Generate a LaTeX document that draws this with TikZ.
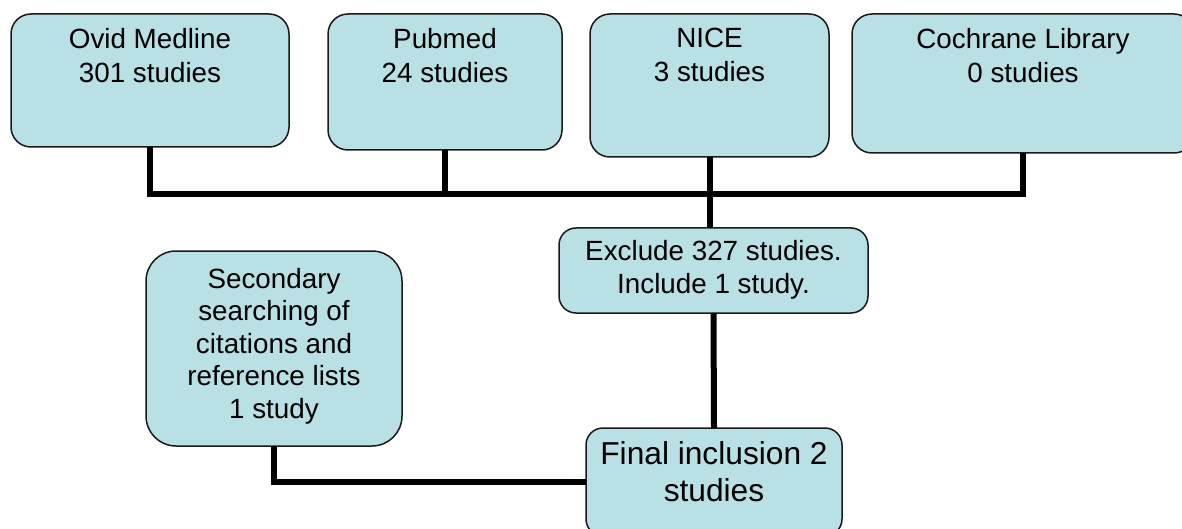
\documentclass[tikz,border=0pt]{standalone}
\usepackage{fontspec}
\setmainfont{Liberation Sans}
\definecolor{boxfill}{RGB}{185,224,228}
\definecolor{boxline}{RGB}{25,25,25}
\begin{document}
\begin{tikzpicture}[x=1pt,y=-1pt,
  box/.style={draw=boxline, line width=1.5pt, fill=boxfill, rounded corners=20pt, inner sep=0pt, outer sep=0pt, anchor=north west},
  txt/.style={align=center, inner sep=0pt, anchor=north, font=\fontsize{27.8}{34}\selectfont},
  link/.style={line width=6pt, line join=miter, black}]
\useasboundingbox (0,0) rectangle (1182,529);
% boxes
\node[box, minimum width=278pt, minimum height=133pt] (ovid) at (11,14) {};
\node[box, minimum width=234pt, minimum height=136pt] (pubmed) at (328,14) {};
\node[box, minimum width=239pt, minimum height=143pt] (nice) at (590,14) {};
\node[box, minimum width=342pt, minimum height=139pt] (cochrane) at (852,14) {};
\node[box, rounded corners=17pt, minimum width=309pt, minimum height=85pt] (exclude) at (559,228) {};
\node[box, rounded corners=30pt, minimum width=256pt, minimum height=195pt] (secondary) at (146,251) {};
\node[box, rounded corners=17pt, minimum width=256pt, minimum height=108pt] (final) at (586,428) {};
% texts
\node[txt] (ovidT) at (150,28) {Ovid Medline\\301 studies};
\node[txt] (pubmedT) at (445,28) {Pubmed\\24 studies};
\node[txt] (niceT) at (709.5,28) {NICE\\3 studies};
\node[txt] (cochraneT) at (1023,28) {Cochrane Library\\0 studies};
\node[txt, font=\fontsize{27.8}{33}\selectfont] (excludeT) at (713.5,240) {Exclude 327 studies.\\Include 1 study.};
\node[txt, font=\fontsize{27.8}{32.5}\selectfont] (secondaryT) at (274,268) {Secondary\\searching of\\citations and\\reference lists\\1 study};
\node[txt, font=\fontsize{31.7}{37}\selectfont] (finalT) at (714,441.7) {Final inclusion 2\\studies};
% connectors
\coordinate (bus) at (0,194);
\draw[link] (ovid.south) |- (cochrane.south |- bus) -- (cochrane.south);
\draw[link] (pubmed.south) -- (pubmed.south |- bus);
\draw[link] (nice.south) -- (nice.south |- exclude.north);
\draw[link] (exclude.south) -- (final.north);
\draw[link] (secondary.south) |- (final.west);
\end{tikzpicture}
\end{document}
